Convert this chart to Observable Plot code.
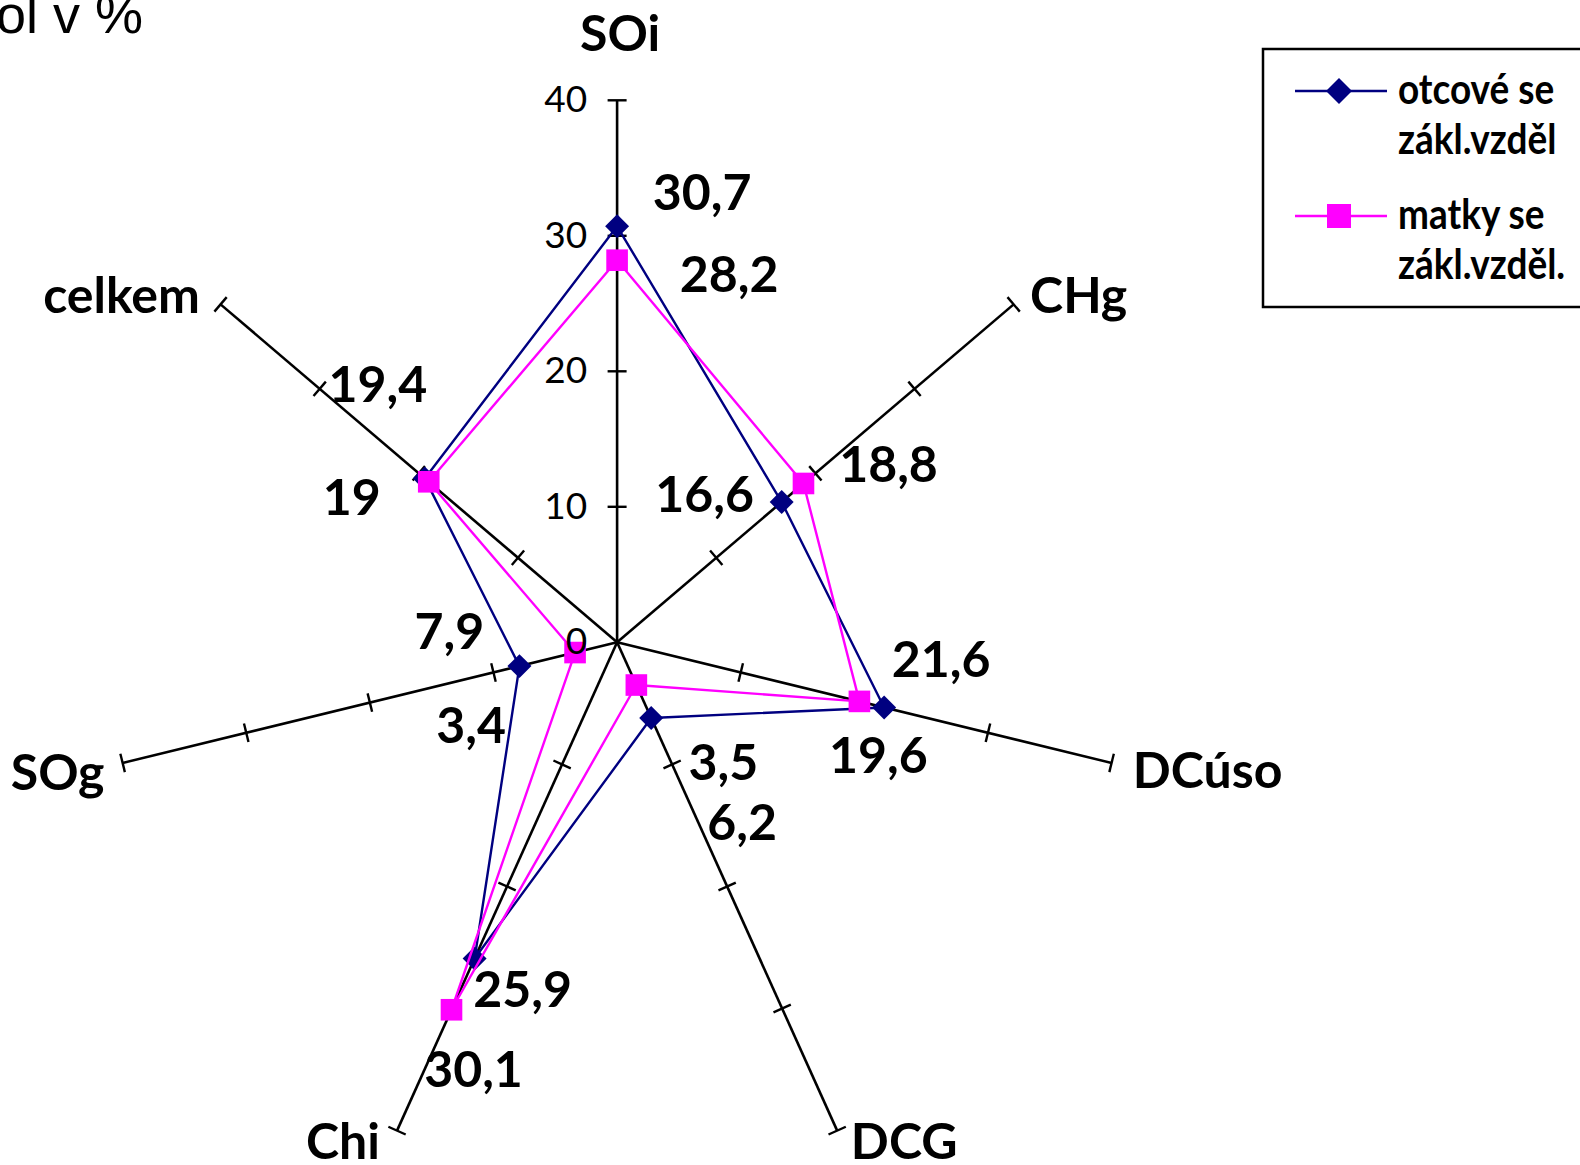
<!DOCTYPE html>
<html><head><meta charset="utf-8">
<script src="https://cdn.jsdelivr.net/npm/d3@7"></script>
<script src="https://cdn.jsdelivr.net/npm/@observablehq/plot@0.6"></script>
<style>
html,body{margin:0;padding:0;background:#fff;overflow:hidden}
#wrap{position:relative;width:1580px;height:1165px}
#wrap svg{display:block}
#overlay{position:absolute;left:0;top:0}
</style></head><body><div id="wrap"></div>
<script>
// ---- data ----
const categories = ["SOi", "CHg", "DCúso", "DCG", "Chi", "SOg", "celkem"];
const otcove = [30.7, 16.6, 21.6, 6.2, 25.9, 7.9, 19.4];
const matky  = [28.2, 18.8, 19.6, 3.5, 30.1, 3.4, 19.0];
const seriesNames = [["otcové se", "zákl.vzděl"], ["matky se", "zákl.vzděl."]];
const rTicks = [0, 10, 20, 30, 40];
const rMax = 40;
const yTitle = "ol v %";

// ---- layout / style ----
const W = 1580, H = 1165;
const cx = 616.6, cy = 641.8, kx = 12.68, ky = 13.55;
const NAVY = "#000080", MAG = "#FF00FF";
const FONT = "Lato, 'Open Sans', sans-serif";
const labelOff1 = [[85,-32],[-77,-6],[57,-46],[91,106],[48,33],[-70,-33],[-47,-92]];
const labelOff2 = [[112,16],[85,-17],[19,56],[87,79],[22,61],[-104,74],[-77,17]];
const catOff = [[3,-65],[65,-7],[96,9],[67,12],[-54,12],[-65,11],[-99,-7]];

const n = categories.length;
const ang = k => (Math.PI / 2) - k * 2 * Math.PI / n;
const pos = (r, k) => ({x: r * Math.cos(ang(k)), y: r * Math.sin(ang(k))});

const fmt = v => String(+v.toFixed(1)).replace(".", ",");
const pts = (vals, name) => vals.map((v, k) => ({...pos(v, k), v, k, name, label: fmt(v)}));
const p1 = pts(otcove, "otcove"), p2 = pts(matky, "matky");

// axes
const axes = categories.map((c, k) => ({x1: 0, y1: 0, x2: pos(rMax, k).x, y2: pos(rMax, k).y, c, k}));
// ticks perpendicular (in screen space), half length ~9px
const ticks = [];
categories.forEach((c, k) => {
  const a = ang(k);
  let ux = Math.cos(a) * kx, uy = -Math.sin(a) * ky;
  const L = Math.hypot(ux, uy); ux /= L; uy /= L;
  const px = -uy, py = ux, h = 9.5;
  rTicks.filter(t => t > 0).forEach(t => {
    const p = pos(t, k);
    ticks.push({x1: p.x + h * px / kx, y1: p.y - h * py / ky, x2: p.x - h * px / kx, y2: p.y + h * py / ky});
  });
});

const marks = [
  Plot.link(axes, {x1: "x1", y1: "y1", x2: "x2", y2: "y2", stroke: "black", strokeWidth: 2.6}),
  Plot.link(ticks, {x1: "x1", y1: "y1", x2: "x2", y2: "y2", stroke: "black", strokeWidth: 2.4}),
  Plot.line(p1, {x: "x", y: "y", curve: "linear-closed", stroke: NAVY, strokeWidth: 2.4}),
  Plot.dot(p1, {x: "x", y: "y", symbol: "diamond2", r: 10.8, fill: NAVY, stroke: "none"}),
  Plot.line(p2, {x: "x", y: "y", curve: "linear-closed", stroke: MAG, strokeWidth: 2.4}),
  Plot.dot(p2, {x: "x", y: "y", symbol: "square", r: 12.2, fill: MAG, stroke: "none"}),
  Plot.text(rTicks, {x: () => 0, y: d => d, text: d => String(d), textAnchor: "end", dx: -30, fontSize: 37, fontFamily: FONT, fill: "black"})
];
p1.forEach((p, k) => marks.push(Plot.text([p], {x: "x", y: "y", text: "label", dx: labelOff1[k][0], dy: labelOff1[k][1], fontSize: 50, fontWeight: "bold", fontFamily: FONT, fill: "black"})));
p2.forEach((p, k) => marks.push(Plot.text([p], {x: "x", y: "y", text: "label", dx: labelOff2[k][0], dy: labelOff2[k][1], fontSize: 50, fontWeight: "bold", fontFamily: FONT, fill: "black"})));
axes.forEach((a, k) => marks.push(Plot.text([a], {x: "x2", y: "y2", text: "c", dx: catOff[k][0], dy: catOff[k][1], fontSize: 50, fontWeight: "bold", fontFamily: FONT, fill: "black"})));

const chart = Plot.plot({
  width: W, height: H,
  marginTop: 0, marginBottom: 0, marginLeft: 0, marginRight: 0,
  x: {domain: [-cx / kx, (W - cx) / kx], range: [0, W], axis: null},
  y: {domain: [-(H - cy) / ky, cy / ky], range: [H, 0], axis: null},
  style: {background: "white", overflow: "hidden"},
  marks
});
const wrap = document.getElementById("wrap");
wrap.appendChild(chart);

// ---- overlay: cropped title + legend ----
const ov = d3.select(wrap).append("svg").attr("id", "overlay").attr("width", W).attr("height", H);
ov.append("text").attr("x", -4).attr("y", 33).attr("font-family", "'Liberation Sans', Arial, sans-serif")
  .attr("font-size", 54).attr("fill", "black").text(yTitle);
const lg = ov.append("g");
lg.append("rect").attr("x", 1263).attr("y", 49).attr("width", 400).attr("height", 258)
  .attr("fill", "white").attr("stroke", "black").attr("stroke-width", 2.5);
const entryY = [91, 216], colors = [NAVY, MAG];
seriesNames.forEach((lines, i) => {
  const y = entryY[i];
  lg.append("line").attr("x1", 1295).attr("x2", 1387).attr("y1", y).attr("y2", y).attr("stroke", colors[i]).attr("stroke-width", 2.4);
  if (i === 0) lg.append("path").attr("d", `M1339,${y-13}L1352,${y}L1339,${y+13}L1326,${y}Z`).attr("fill", NAVY);
  else lg.append("rect").attr("x", 1327).attr("y", y - 12).attr("width", 24).attr("height", 24).attr("fill", MAG);
  lines.forEach((t, j) => {
    const te = lg.append("text").attr("x", 1398).attr("y", y + 13 + j * 50)
      .attr("font-family", FONT).attr("font-weight", "bold").attr("font-size", 42).attr("fill", "black").text(t);
    const len = te.node().getComputedTextLength();
    te.attr("textLength", len * 0.88).attr("lengthAdjust", "spacingAndGlyphs");
  });
});
</script></body></html>
